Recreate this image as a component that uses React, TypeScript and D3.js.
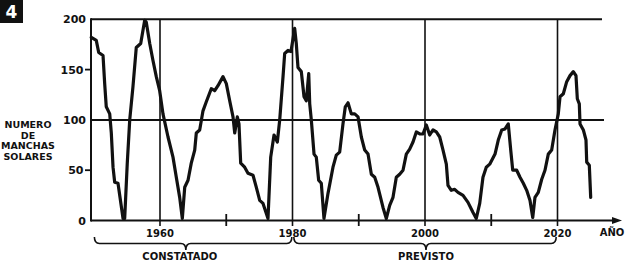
import React from 'react';
import * as d3 from 'd3';

// Sunspot number vs year
const years = [
  1949.63, 1950.38, 1950.75, 1951.4, 1951.65, 1951.89, 1952.41, 1952.65, 1952.91, 1953.16,
  1953.66, 1954.42, 1954.67, 1955.06, 1955.43, 1955.92, 1956.42, 1957.09, 1957.69, 1957.93,
  1958.45, 1958.94, 1959.44, 1959.95, 1960.45, 1961.21, 1961.96, 1962.46, 1962.97, 1963.37,
  1963.73, 1964.23, 1964.72, 1965.24, 1965.48, 1965.99, 1966.49, 1966.99, 1967.74, 1968.26,
  1968.75, 1969.51, 1970.01, 1970.52, 1971.02, 1971.28, 1971.67, 1971.92, 1972.18, 1972.78,
  1973.28, 1974.04, 1974.54, 1975.05, 1975.55, 1976.3, 1976.71, 1977.21, 1977.71, 1978.07,
  1978.57, 1978.82, 1979.32, 1979.77, 1980.33, 1980.57, 1980.83, 1981.33, 1981.74, 1982.08,
  1982.45, 1982.6, 1982.84, 1983.25, 1983.59, 1983.95, 1984.35, 1984.75, 1985.36, 1986.11,
  1986.61, 1987.12, 1987.62, 1987.97, 1988.38, 1988.88, 1989.39, 1989.89, 1990.39, 1990.9,
  1991.4, 1991.9, 1992.41, 1992.91, 1993.66, 1994.16, 1994.67, 1995.17, 1995.67, 1996.18,
  1996.68, 1997.18, 1997.69, 1998.19, 1998.69, 1999.2, 1999.7, 2000.2, 2000.71, 2001.21,
  2001.71, 2002.22, 2002.72, 2003.22, 2003.47, 2003.97, 2004.48, 2004.98, 2005.74, 2006.49,
  2007.25, 2007.74, 2008.26, 2008.75, 2009.25, 2009.77, 2010.57, 2011.06, 2011.58, 2012.08,
  2012.57, 2012.94, 2013.24, 2013.84, 2014.34, 2014.84, 2015.35, 2015.85, 2016.26, 2016.6,
  2017.1, 2017.62, 2018.11, 2018.61, 2019.12, 2019.62, 2020.12, 2020.38, 2020.88, 2021.39,
  2021.89, 2022.39, 2022.79, 2022.99, 2023.29, 2023.4, 2023.9, 2024.3, 2024.41, 2024.8,
  2025.01,
];
const sunspots = [
  182, 179, 167, 164, 136, 113, 106, 87, 53, 38,
  37, 2, 2, 57, 100, 133, 172, 176, 199, 197,
  176, 159, 143, 129, 106, 83, 63, 43, 23, 2,
  33, 40, 57, 70, 87, 90, 109, 118, 131, 129,
  134, 143, 136, 119, 103, 87, 103, 96, 57, 53,
  47, 45, 33, 20, 17, 2, 63, 85, 78, 100,
  143, 166, 169, 168, 191, 176, 152, 148, 123, 119,
  146, 116, 100, 66, 63, 40, 37, 2, 27, 53,
  65, 68, 96, 113, 117, 106, 106, 103, 83, 70,
  66, 46, 43, 33, 13, 2, 15, 23, 43, 46,
  50, 66, 71, 78, 88, 86, 86, 95, 85, 90,
  88, 83, 70, 56, 35, 30, 31, 28, 25, 18,
  8, 2, 17, 43, 53, 56, 66, 80, 90, 91,
  96, 70, 50, 50, 43, 37, 30, 20, 3, 23,
  28, 41, 50, 66, 70, 90, 106, 123, 126, 138,
  144, 148, 144, 121, 116, 96, 90, 80, 58, 55,
  23,
];

const majorYears = [1960, 1980, 2000, 2020];
const minorYears = [1970, 1990, 2010];
const yTickValues = [0, 50, 100, 150, 200];
const gridValues = [100, 200];
const yTitleLines = ['NUMERO', 'DE', 'MANCHAS', 'SOLARES'];
const periodLabels = ['CONSTATADO', 'PREVISTO'];
const periodFrom = [1950.1, 1980.2];
const periodTo = [1979.9, 2019.8];
const periodTip = [1963.9, 2000.15];
const periodText = [1963.0, 2000.15];

const FONT = '"DejaVu Sans", sans-serif';

export default function App() {
  const x = d3.scaleLinear().domain([1960, 2020]).range([160, 557.5]);
  const y = d3.scaleLinear().domain([0, 200]).range([220.5, 19.3]);
  const left = 91;
  const gridRight = [604, 602];

  const pts = years.map((yr, i) => [x(yr), y(sunspots[i])] as [number, number]);
  const line = d3.line<[number, number]>().x(d => d[0]).y(d => d[1]).curve(d3.curveLinear);

  const brace = (x0: number, x1: number, tip: number) => {
    const yTop = 237, yMid = 243.5, yTip = 250, r = 5;
    return `M${x0},${yTop} Q${x0},${yMid} ${x0 + r},${yMid} L${tip - r},${yMid} Q${tip},${yMid} ${tip},${yTip} Q${tip},${yMid} ${tip + r},${yMid} L${x1 - r},${yMid} Q${x1},${yMid} ${x1},${yTop}`;
  };

  return (
    <svg width={625} height={266} style={{ position: 'absolute', left: 0, top: 0, background: '#fff' }}
      fontFamily={FONT} fontWeight={700}>
      {/* figure number */}
      <rect x={0} y={0} width={23} height={23} fill="#111" />
      <text x={11.5} y={18} textAnchor="middle" fill="#fff" fontSize={17}>4</text>

      {/* y title */}
      {yTitleLines.map((t, i) => (
        <text key={t} x={28} y={128 + i * 10.7} textAnchor="middle" fontSize={9.5} fill="#111">{t}</text>
      ))}

      {/* horizontal grid lines */}
      {gridValues.map((v, i) => (
        <line key={v} x1={left} x2={gridRight[i]} y1={y(v)} y2={y(v)} stroke="#111" strokeWidth={2} />
      ))}

      {/* left axis */}
      <line x1={left} x2={left} y1={y(200) - 1} y2={y(0) + 1} stroke="#111" strokeWidth={2} />
      {yTickValues.map(v => (
        <g key={v}>
          {(v === 50 || v === 150) && (
            <line x1={85} x2={left} y1={y(v)} y2={y(v)} stroke="#111" strokeWidth={1.8} />
          )}
          <text x={v % 100 === 0 ? 86 : 83.5} y={y(v) + 4} textAnchor="end" fontSize={11} fill="#111">{v}</text>
        </g>
      ))}

      {/* vertical year lines */}
      {majorYears.map(yr => (
        <g key={yr}>
          <line x1={x(yr)} x2={x(yr)} y1={y(200)} y2={226} stroke="#111" strokeWidth={1.6} />
          <text x={x(yr)} y={237} textAnchor="middle" fontSize={10} fill="#111">{yr}</text>
        </g>
      ))}
      {minorYears.map(yr => (
        <line key={yr} x1={x(yr)} x2={x(yr)} y1={214} y2={226} stroke="#111" strokeWidth={1.8} />
      ))}

      {/* x axis with arrow */}
      <line x1={left} x2={614} y1={y(0)} y2={y(0)} stroke="#111" strokeWidth={2} />
      <path d={`M612,${y(0) - 3.5} L622,${y(0)} L612,${y(0) + 3.5} Z`} fill="#111" />
      <text x={612} y={236} textAnchor="middle" fontSize={10} fill="#111">AÑO</text>

      {/* sunspot curve */}
      <path d={line(pts) || ''} fill="none" stroke="#111" strokeWidth={3.2} strokeLinejoin="round" strokeLinecap="round" />

      {/* braces */}
      {periodLabels.map((lab, i) => (
        <g key={lab}>
          <path d={brace(x(periodFrom[i]), x(periodTo[i]), x(periodTip[i]))} fill="none" stroke="#111" strokeWidth={1.6} />
          <text x={x(periodText[i])} y={260} textAnchor="middle" fontSize={10} fill="#111">{lab}</text>
        </g>
      ))}
    </svg>
  );
}
